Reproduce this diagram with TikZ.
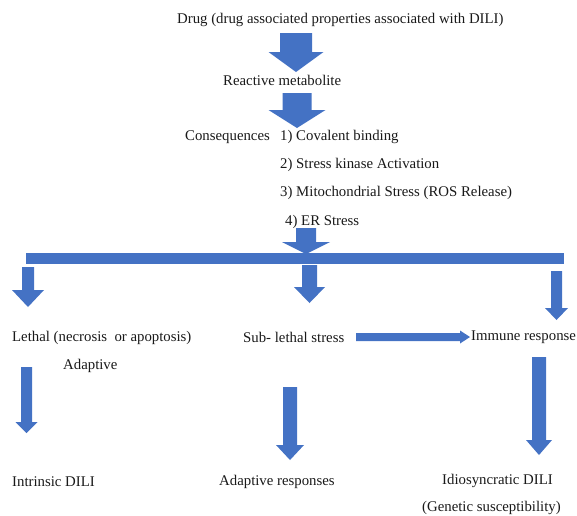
\documentclass[tikz,border=0pt]{standalone}
\usepackage{fontspec}
\setmainfont{Liberation Serif}
\definecolor{arrowblue}{RGB}{68,114,196}
\definecolor{txt}{RGB}{25,25,25}
\newcommand{\blkdown}[6]{% cx, top, headbase, tip, shaft half, head half
  \fill[arrowblue] ({#1-#5},#2) -- ({#1+#5},#2) -- ({#1+#5},#3) -- ({#1+#6},#3) -- (#1,#4) -- ({#1-#6},#3) -- ({#1-#5},#3) -- cycle;}
\begin{document}
\begin{tikzpicture}[x=1pt,y=-1pt,
  lbl/.style={anchor=west,inner sep=0pt,text=txt,font=\fontsize{14.8}{17}\selectfont}]
\useasboundingbox (0,0) rectangle (577,515);
% texts
\node[lbl] (drug) at (177,20) {Drug (drug associated properties associated with DILI)};
\node[lbl] (react) at (223,80) {Reactive metabolite};
\node[lbl] (cons) at (185,137) {Consequences};
\node[lbl] (c1) at (280,137) {1) Covalent binding};
\node[lbl] (c2) at (280,165) {2) Stress kinase Activation};
\node[lbl] (c3) at (280,193) {3) Mitochondrial Stress (ROS Release)};
\node[lbl] (c4) at (285,222) {4) ER Stress};
\node[lbl] (lethal) at (12,338) {Lethal (necrosis\ \ or apoptosis)};
\node[lbl] (adapt) at (63,366) {Adaptive};
\node[lbl] (sub) at (243,337) {Sub- lethal stress};
\node[lbl] (immune) at (471,337) {Immune response};
\node[lbl] (intr) at (12,482) {Intrinsic DILI};
\node[lbl] (adres) at (219,482) {Adaptive responses};
\node[lbl] (idio) at (442,481) {Idiosyncratic DILI};
\node[lbl] (gen) at (422,508) {(Genetic susceptibility)};
% block arrows
\blkdown{296}{33}{52}{72}{16}{27.5}
\blkdown{297}{93}{110}{128}{14.5}{28.5}
\blkdown{306}{228}{242}{254}{10}{24}
\fill[arrowblue] (26,253) rectangle (564,264);
\blkdown{28}{267}{290}{307}{6}{16}
\blkdown{309.5}{265}{287}{303}{7.5}{15.5}
\blkdown{556.5}{271}{308}{320}{5.5}{11.5}
\fill[arrowblue] (356,333) -- (460,333) -- (460,330.5) -- (470,337) -- (460,343.5) -- (460,341) -- (356,341) -- cycle;
\blkdown{26.5}{367}{422}{433}{5.5}{11}
\blkdown{290}{387}{445}{460}{7}{14}
\blkdown{539}{357}{440}{455}{7}{13}
\end{tikzpicture}
\end{document}
